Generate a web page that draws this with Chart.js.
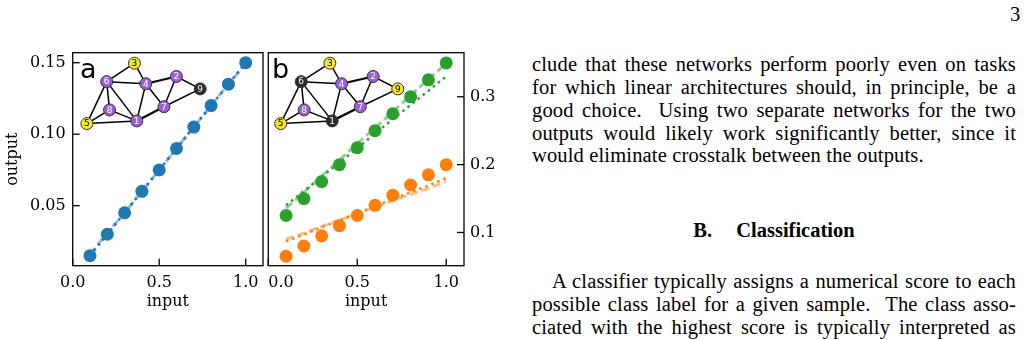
<!DOCTYPE html>
<html>
<head>
<meta charset="utf-8">
<script src="https://cdn.jsdelivr.net/npm/chart.js@4"></script>
<style>
    body { margin: 0; width: 1028px; height: 340px; background: #fff; position: relative; overflow: hidden; }
    canvas { position: absolute; top: 0; }
    .tag { position: absolute; top: 55px; font: 27px/27px "DejaVu Sans", sans-serif; color: #000; }
    .text { position: absolute; left: 532px; width: 484px; font: 20.5px/22.75px "Liberation Serif", serif; letter-spacing: 0.15px; color: #000; }
    .text span { display: block; text-align: justify; text-align-last: justify; }
    .text span.last { text-align-last: left; }
    .text span.indent { text-indent: 20px; }
    .head { position: absolute; left: 532px; width: 484px; top: 218.5px; text-align: center; font: bold 20.5px/22.75px "Liberation Serif", serif; }
    .pagenum { position: absolute; left: 1010px; top: 2.5px; font: 20.5px/22.75px "Liberation Serif", serif; }
</style>
</head>
<body>
<canvas id="panelA" width="270" height="320" style="left:0"></canvas>
<canvas id="panelB" width="260" height="320" style="left:260px"></canvas>
<div class="tag" style="left:80px">a</div>
<div class="tag" style="left:272px">b</div>

<div class="pagenum">3</div>
<div class="text" style="top:53.4px">
    <span>clude that these networks perform poorly even on tasks</span>
    <span>for which linear architectures should, in principle, be a</span>
    <span>good choice. &nbsp;Using two separate networks for the two</span>
    <span>outputs would likely work significantly better, since it</span>
    <span class="last">would eliminate crosstalk between the outputs.</span>
</div>
<div class="head">B.<span style="display:inline-block;width:24px"></span>Classification</div>
<div class="text" style="top:270px">
    <span class="indent">A classifier typically assigns a numerical score to each</span>
    <span>possible class label for a given sample. &nbsp;The class asso-</span>
    <span>ciated with the highest score is typically interpreted as</span>
</div>

<script>
Chart.defaults.font.family = '"DejaVu Serif", serif';
Chart.defaults.font.size = 16;
Chart.defaults.color = '#000';

// inputs shared by both panels
const inputs = [0.1, 0.2, 0.3, 0.4, 0.5, 0.6, 0.7, 0.8, 0.9, 1.0];
const xTickValues = [0.0, 0.5, 1.0];

// panel a: one output
const outputA = [0.015, 0.030, 0.045, 0.060, 0.075, 0.090, 0.105, 0.120, 0.135, 0.150];
const dashedA = [0.016, 0.031, 0.045, 0.060, 0.075, 0.090, 0.105, 0.120, 0.135, 0.149];
const dottedA = [0.015, 0.030, 0.045, 0.060, 0.075, 0.090, 0.105, 0.120, 0.135, 0.150];
const yTicksA = [0.05, 0.10, 0.15];

// panel b: two outputs
const outputGreen = [0.125, 0.150, 0.175, 0.200, 0.225, 0.250, 0.275, 0.300, 0.325, 0.350];
const dashedGreen = [0.136, 0.159, 0.183, 0.207, 0.231, 0.254, 0.278, 0.302, 0.326, 0.349];
const dottedGreen = [0.140, 0.161, 0.182, 0.203, 0.224, 0.246, 0.267, 0.288, 0.309, 0.330];
const outputOrange = [0.065, 0.080, 0.095, 0.110, 0.125, 0.140, 0.155, 0.170, 0.185, 0.200];
const dashedOrange = [0.090, 0.099, 0.109, 0.118, 0.128, 0.137, 0.147, 0.156, 0.165, 0.175];
const dottedOrange = [0.087, 0.097, 0.108, 0.118, 0.128, 0.139, 0.149, 0.159, 0.169, 0.180];
const yTicksB = [0.1, 0.2, 0.3];

// network drawn in the corner of each panel
const nodeIds = [1, 2, 3, 4, 5, 6, 7, 8, 9];
const nodeX = [0.44, 0.79, 0.42, 0.52, 0.00, 0.175, 0.68, 0.20, 1.00];
const nodeY = [0.045, 0.78, 1.00, 0.66, 0.00, 0.695, 0.28, 0.227, 0.575];
const edges = [[3, 6], [3, 4], [6, 4], [4, 2], [2, 9], [2, 7], [4, 7], [4, 1], [7, 9],
               [7, 1], [6, 8], [6, 5], [6, 1], [8, 5], [8, 1], [5, 1]];
const heavyEdges = ['4-2', '7-1'];
const nodeKindA = ['p', 'p', 'y', 'p', 'y', 'p', 'p', 'p', 'k'];
const nodeKindB = ['k', 'p', 'y', 'p', 'y', 'k', 'p', 'p', 'y'];

const BLUE = '#1f77b4';
const ORANGE = '#ff7f0e';
const GREEN = '#2ca02c';
const nodeFill = { p: '#9b5fd6', y: '#f4e72a', k: '#2b2b2b' };
const nodeText = { p: '#fff', y: '#000', k: '#fff' };

const toPoints = ys => inputs.map((x, i) => ({ x: x, y: ys[i] }));

const dotSet = (ys, color) => ({
    type: 'scatter', data: toPoints(ys), backgroundColor: color, borderWidth: 0, pointRadius: 6.5
});
const dashedSet = (ys, color) => ({
    type: 'line', data: toPoints(ys), borderColor: color + '80', borderWidth: 3,
    borderDash: [8, 4], pointRadius: 0, fill: false
});
const dottedSet = (ys, color) => ({
    type: 'line', data: toPoints(ys), borderColor: color, borderWidth: 2.5,
    borderDash: [2.5, 4], pointRadius: 0, fill: false
});

// node dataset first so it is drawn on top, then the edges
const networkSets = (kinds) => {
    const pos = id => ({ x: nodeX[id - 1], y: nodeY[id - 1] });
    const nodes = {
        type: 'scatter', xAxisID: 'nx', yAxisID: 'ny', data: nodeIds.map(pos),
        pointRadius: 6, backgroundColor: kinds.map(k => nodeFill[k]),
        borderColor: '#333', borderWidth: 1, isNodes: true, kinds: kinds
    };
    const lines = edges.map(([a, b]) => ({
        type: 'line', xAxisID: 'nx', yAxisID: 'ny', data: [pos(a), pos(b)],
        borderColor: '#000', borderWidth: heavyEdges.includes(a + '-' + b) ? 2.3 : 1.5, pointRadius: 0
    }));
    return [nodes, ...lines];
};

// box around the plot and inward tick marks
const framePlugin = {
    id: 'frame',
    afterDraw(chart) {
        const { ctx, chartArea: a } = chart;
        ctx.save();
        ctx.strokeStyle = '#000';
        ctx.lineWidth = 1.3;
        ctx.strokeRect(a.left, a.top, a.right - a.left, a.bottom - a.top);
        const xs = chart.scales.x;
        xs.ticks.forEach(t => {
            if (t.label === '') return;
            const px = xs.getPixelForValue(t.value);
            ctx.beginPath();
            ctx.moveTo(px, a.bottom);
            ctx.lineTo(px, a.bottom - 7);
            ctx.stroke();
        });
        const ys = chart.scales.y;
        const edge = ys.position === 'right' ? a.right : a.left;
        const dir = ys.position === 'right' ? -1 : 1;
        ys.ticks.forEach(t => {
            const py = ys.getPixelForValue(t.value);
            ctx.beginPath();
            ctx.moveTo(edge, py);
            ctx.lineTo(edge + dir * 7, py);
            ctx.stroke();
        });
        ctx.restore();
    }
};

// numbers inside the network nodes
const nodeLabelPlugin = {
    id: 'nodeLabels',
    afterDatasetsDraw(chart) {
        const index = chart.data.datasets.findIndex(d => d.isNodes);
        if (index < 0) return;
        const ds = chart.data.datasets[index];
        const { ctx } = chart;
        ctx.save();
        ctx.font = '9px "DejaVu Sans", sans-serif';
        ctx.textAlign = 'center';
        ctx.textBaseline = 'middle';
        chart.getDatasetMeta(index).data.forEach((pt, i) => {
            ctx.fillStyle = nodeText[ds.kinds[i]];
            ctx.fillText(String(nodeIds[i]), pt.x, pt.y + 0.5);
        });
        ctx.restore();
    }
};

const makePanel = (canvasId, opts) => {
    const ctx = document.getElementById(canvasId).getContext('2d');
    return new Chart(ctx, {
        type: 'line',
        data: { datasets: opts.datasets },
        plugins: [framePlugin, nodeLabelPlugin],
        options: {
            responsive: false,
            animation: false,
            devicePixelRatio: 1,
            layout: { padding: opts.padding },
            plugins: { legend: { display: false }, tooltip: { enabled: false } },
            scales: {
                x: {
                    type: 'linear', min: 0, max: 1.1,
                    grid: { display: false, drawTicks: false },
                    border: { display: false },
                    afterBuildTicks: s => { s.ticks = opts.xTicks.map(v => ({ value: v })); },
                    afterFit: s => { s.height = 54.3; },
                    ticks: {
                        padding: 8, autoSkip: false, maxRotation: 0, align: opts.xAlign,
                        callback: v => (xTickValues.includes(v) ? v.toFixed(1) : '')
                    },
                    title: { display: true, text: 'input', padding: { top: 0, bottom: 9 } }
                },
                y: {
                    type: 'linear', position: opts.yPosition, min: opts.yMin, max: opts.yMax,
                    grid: { display: false, drawTicks: false },
                    border: { display: false },
                    afterBuildTicks: s => { s.ticks = opts.yTicks.map(v => ({ value: v })); },
                    afterFit: s => { s.width = opts.yWidth; },
                    ticks: { padding: opts.yPadding, callback: v => v.toFixed(opts.yDigits) },
                    title: { display: !!opts.yTitle, text: opts.yTitle || '', padding: { top: 3, bottom: 0 } }
                },
                nx: { type: 'linear', display: false, min: opts.netX[0], max: opts.netX[1] },
                ny: { type: 'linear', display: false, min: -2.352, max: 1.174 }
            }
        }
    });
};

makePanel('panelA', {
    datasets: [
        ...networkSets(nodeKindA),
        dotSet(outputA, BLUE),
        dottedSet(dottedA, BLUE),
        dashedSet(dashedA, BLUE)
    ],
    padding: { top: 52.7, right: 1.3, left: 0, bottom: 0 },
    xTicks: xTickValues,
    xAlign: 'center',
    yPosition: 'left', yMin: 0.008, yMax: 0.157, yTicks: yTicksA, yDigits: 2,
    yWidth: 72.7, yPadding: 7, yTitle: 'output',
    netX: [-0.125, 1.554]
});

makePanel('panelB', {
    datasets: [
        ...networkSets(nodeKindB),
        dotSet(outputGreen, GREEN),
        dotSet(outputOrange, ORANGE),
        dottedSet(dottedGreen, GREEN),
        dottedSet(dottedOrange, ORANGE),
        dashedSet(dashedGreen, GREEN),
        dashedSet(dashedOrange, ORANGE)
    ],
    padding: { top: 52.7, right: 0, left: 8.3, bottom: 0 },
    // extra blank tick at the right edge so only 0.0 gets pushed inside
    xTicks: [...xTickValues, 1.1],
    xAlign: 'inner',
    yPosition: 'right', yMin: 0.051, yMax: 0.365, yTicks: yTicksB, yDigits: 1,
    yWidth: 56, yPadding: 6,
    netX: [-0.106, 1.566]
});
</script>
</body>
</html>
